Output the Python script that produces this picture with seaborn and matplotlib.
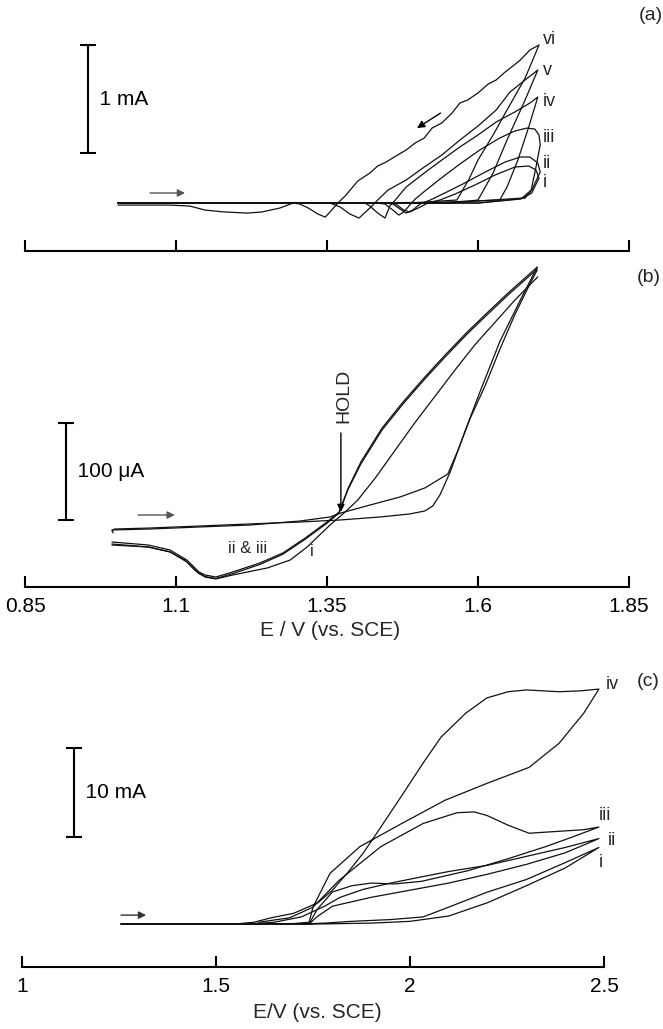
import matplotlib
matplotlib.use("Agg")
import matplotlib.pyplot as plt
import numpy as np
import pandas as pd
import seaborn as sns

sns.set_theme(style="white")
plt.rcParams['font.family'] = ['Liberation Sans', 'DejaVu Sans']

INK = '#111111'

# ---------------- Panel (a): current in mA vs E / V ----------------
a_vi_E = [1.004, 1.30, 1.50, 1.565, 1.585, 1.600, 1.625, 1.648, 1.678, 1.701, 1.686, 1.670, 1.660, 1.645,
          1.630, 1.617, 1.600, 1.583, 1.570, 1.557, 1.540, 1.524, 1.511, 1.496, 1.481, 1.464, 1.448, 1.434,
          1.421, 1.401, 1.380, 1.368, 1.355, 1.347, 1.335, 1.319, 1.305, 1.294, 1.272, 1.242, 1.218, 1.181,
          1.148, 1.123, 1.090, 1.004]
a_vi_I = [0, 0, 0.005, 0.028, 0.22, 0.398, 0.63, 0.861, 1.157, 1.463, 1.417, 1.324, 1.278, 1.213,
          1.139, 1.102, 1.019, 0.954, 0.926, 0.833, 0.741, 0.694, 0.602, 0.556, 0.491, 0.435, 0.380, 0.343,
          0.278, 0.204, 0.065, 0.0, -0.083, -0.130, -0.102, -0.046, -0.009, 0.0, -0.046, -0.083, -0.093,
          -0.083, -0.065, -0.028, -0.019, -0.019]
a_v_E = [1.004, 1.40, 1.560, 1.600, 1.625, 1.648, 1.678, 1.699, 1.678, 1.653, 1.630, 1.600, 1.570, 1.540,
         1.511, 1.481, 1.451, 1.434, 1.421, 1.403, 1.388, 1.372, 1.355, 1.004]
a_v_I = [0, 0, 0.003, 0.028, 0.278, 0.583, 0.954, 1.231, 1.139, 1.028, 0.861, 0.713, 0.583, 0.444,
         0.333, 0.213, 0.120, 0.028, -0.046, -0.139, -0.102, -0.037, 0, 0]
a_iv_E = [1.004, 1.50, 1.636, 1.648, 1.666, 1.684, 1.699, 1.686, 1.661, 1.630, 1.600, 1.570, 1.540, 1.511,
          1.481, 1.463, 1.454, 1.446, 1.434, 1.421, 1.413, 1.004]
a_iv_I = [0, 0, 0.028, 0.148, 0.398, 0.704, 0.981, 0.926, 0.843, 0.750, 0.630, 0.519, 0.398, 0.278,
          0.148, 0.028, -0.028, -0.139, -0.093, -0.028, 0, 0]
a_iii_E = [1.004, 1.55, 1.673, 1.688, 1.696, 1.703, 1.701, 1.694, 1.681, 1.661, 1.636, 1.603, 1.570, 1.537,
           1.512, 1.496, 1.487, 1.477, 1.469, 1.459, 1.446, 1.434, 1.004]
a_iii_I = [0, 0, 0.046, 0.120, 0.333, 0.537, 0.630, 0.685, 0.694, 0.667, 0.602, 0.491, 0.361, 0.222,
           0.111, 0.037, -0.019, -0.083, -0.111, -0.065, -0.009, 0, 0]
a_ii_E = [1.004, 1.60, 1.678, 1.689, 1.703, 1.699, 1.686, 1.670, 1.645, 1.612, 1.578, 1.545, 1.521, 1.504,
          1.492, 1.481, 1.471, 1.459, 1.446, 1.004]
a_ii_I = [0, 0, 0.046, 0.120, 0.287, 0.370, 0.426, 0.426, 0.380, 0.287, 0.185, 0.093, 0.028, -0.009,
          -0.065, -0.093, -0.056, -0.009, 0, 0]
a_i_E = [1.004, 1.60, 1.671, 1.689, 1.701, 1.696, 1.684, 1.661, 1.628, 1.595, 1.562, 1.537, 1.517, 1.501,
         1.487, 1.477, 1.464, 1.454, 1.004]
a_i_I = [0, 0, 0.037, 0.093, 0.231, 0.306, 0.343, 0.333, 0.259, 0.167, 0.083, 0.028, 0, -0.046,
         -0.083, -0.065, -0.009, 0, 0]
a_labels = ['vi', 'v', 'iv', 'iii', 'ii', 'i']
a_label_I = [1.51, 1.23, 0.94, 0.61, 0.37, 0.19]

# ---------------- Panel (b): current in uA vs E / V ----------------
b_fwd_i_E = [0.996, 0.994, 0.998, 1.057, 1.140, 1.222, 1.305, 1.372, 1.438, 1.487, 1.512, 1.525, 1.537,
             1.554, 1.578, 1.603, 1.636, 1.670, 1.698]
b_fwd_i_I = [-4, -2, 0, 1.0, 3.1, 5.2, 7.2, 9.3, 12.4, 15.5, 18.6, 23.7, 35.1, 58.8, 100, 141, 193, 236, 270]
b_fwd_23_E = [0.994, 1.057, 1.140, 1.222, 1.305, 1.355, 1.373, 1.421, 1.471, 1.512, 1.550, 1.567, 1.587,
              1.612, 1.636, 1.661, 1.683, 1.698]
b_fwd_23_I = [-1, 0, 2.1, 4.1, 8.2, 12.4, 16.5, 24.7, 33, 42.3, 56.7, 81.4, 114, 148, 185, 221, 249, 267]
b_rev_2_E = [1.698, 1.651, 1.617, 1.582, 1.545, 1.511, 1.476, 1.441, 1.406, 1.385, 1.370, 1.350, 1.314,
             1.277, 1.239, 1.194, 1.166, 1.148, 1.138, 1.118, 1.090, 1.054, 0.994]
b_rev_2_I = [270, 244, 224, 203, 179, 156, 131, 104, 69, 42, 17.5, 7.2, -9.3, -24.7, -35, -44.3, -49.5,
             -47.4, -44.3, -32, -21.6, -16.5, -13.4]
b_rev_3_E = b_rev_2_E
b_rev_3_I = [268, 242, 222, 201, 177, 154, 129, 102, 67, 41, 16.5, 6, -10.5, -26, -36.5, -46, -51, -49,
             -46, -34, -23.5, -18.5, -15.5]
b_rev_1_E = [1.699, 1.661, 1.628, 1.595, 1.562, 1.529, 1.496, 1.463, 1.430, 1.401, 1.380, 1.355, 1.317,
             1.289, 1.251, 1.194, 1.166, 1.148, 1.131, 1.115, 1.090, 1.054, 0.994]
b_rev_1_I = [260, 236, 213, 190, 164, 137, 110, 81.4, 52.6, 29.9, 17.5, 4.1, -18.6, -32, -40.2, -47.4,
             -51.5, -49.5, -42.3, -32, -23.7, -18.6, -16.5]
b_ticks = [0.85, 1.1, 1.35, 1.6, 1.85]
b_ticklabels = ['0.85', '1.1', '1.35', '1.6', '1.85']

# ---------------- Panel (c): current in mA vs E / V ----------------
c_iv_E = [1.255, 1.60, 1.70, 1.740, 1.750, 1.794, 1.871, 1.979, 2.090, 2.198, 2.307, 2.384, 2.448, 2.487,
          2.44, 2.384, 2.30, 2.253, 2.198, 2.144, 2.08, 2.034, 1.98, 1.925, 1.88, 1.838, 1.80, 1.763, 1.70,
          1.642, 1.598, 1.55]
c_iv_I = [0, 0, 0.05, 0.2, 1.9, 5.7, 8.7, 11.3, 13.9, 15.8, 17.6, 20.3, 23.7, 26.4, 26.2, 26.1, 26.3,
          26.1, 25.4, 23.7, 21.0, 18.1, 14.5, 10.9, 8.0, 5.7, 3.8, 2.4, 1.2, 0.7, 0.2, 0.0]
c_iii_E = [1.255, 1.60, 1.74, 1.76, 1.80, 1.85, 1.90, 1.96, 2.03, 2.15, 2.25, 2.35, 2.42, 2.487, 2.448,
           2.307, 2.253, 2.198, 2.165, 2.121, 2.034, 1.925, 1.817, 1.750, 1.69, 1.61]
c_iii_I = [0, 0, 0, 1.6, 3.6, 4.3, 4.6, 4.5, 4.8, 6.0, 7.3, 8.7, 9.8, 10.9, 10.6, 10.2, 11.1, 12.2, 12.6,
           12.5, 11.3, 8.7, 4.9, 1.9, 0.7, 0.2]
c_ii_E = [1.255, 1.60, 1.74, 1.76, 1.80, 1.90, 2.00, 2.10, 2.20, 2.30, 2.40, 2.487, 2.40, 2.30, 2.20,
          2.10, 2.03, 1.95, 1.88, 1.82, 1.78, 1.72, 1.65, 1.58]
c_ii_I = [0, 0, 0, 0.8, 2.0, 3.0, 3.8, 4.6, 5.6, 6.7, 8.0, 9.6, 8.6, 7.6, 6.6, 5.9, 5.3, 4.6, 3.9, 3.0,
          2.0, 0.8, 0.2, 0]
c_i_E = [1.255, 1.76, 1.90, 2.00, 2.10, 2.20, 2.30, 2.40, 2.487, 2.40, 2.30, 2.20, 2.10, 2.034, 1.95,
         1.85, 1.78, 1.72]
c_i_I = [0, 0, 0.1, 0.3, 0.9, 2.4, 4.3, 6.3, 8.6, 6.9, 5.0, 3.6, 1.9, 0.8, 0.5, 0.3, 0.1, 0]
c_ticks = [1.0, 1.5, 2.0, 2.5]
c_ticklabels = ['1', '1.5', '2', '2.5']
c_labels = ['iv', 'iii', 'ii', 'i']
c_label_E = [2.521, 2.503, 2.521, 2.492]
c_label_I = [26.9, 12.2, 9.4, 6.9]

SCALE_A = 1.0     # mA
SCALE_B = 100.0   # uA
SCALE_C = 10.0    # mA


def to_frame(curves):
    parts = [pd.DataFrame({'E': E, 'I': I, 'scan': name}) for name, (E, I) in curves.items()]
    return pd.concat(parts, ignore_index=True)


def draw(ax, df, lw=0.9):
    sns.lineplot(data=df, x='E', y='I', units='scan', estimator=None, sort=False,
                 color=INK, lw=lw, ax=ax, legend=False)


def style(ax, xlim, ylim, ticks, labels):
    ax.set_xlim(xlim)
    ax.set_ylim(ylim)
    for s in ['top', 'right', 'left']:
        ax.spines[s].set_visible(False)
    sp = ax.spines['bottom']
    sp.set_color('black')
    sp.set_linewidth(1.5)
    sp.set_bounds(ticks[0], ticks[-1])
    ax.set_xticks(ticks)
    ax.set_xticklabels(labels if labels else [''] * len(ticks))
    ax.tick_params(axis='x', direction='in', length=8, width=1.5, colors='black',
                   labelsize=15, pad=7, bottom=True)
    ax.set_yticks([])
    ax.set_xlabel('')
    ax.set_ylabel('')
    ax.patch.set_alpha(0)
    ax.grid(False)


def scalebar(ax, x, y0, length, label, fs=15):
    ax.errorbar([x], [y0 + length / 2], yerr=[[length / 2], [length / 2]], fmt='none',
                ecolor='black', elinewidth=1.5, capsize=6, capthick=1.5)
    ax.text(x, y0 + length / 2, '  ' + label, ha='left', va='center', fontsize=fs, color='black')


def arrow(ax, start, end, color='black', lw=1.0):
    ax.annotate('', xy=end, xytext=start,
                arrowprops=dict(arrowstyle='-|>', color=color, lw=lw, mutation_scale=11,
                                shrinkA=0, shrinkB=0))


W, H = 663.0, 1029.0
fig = plt.figure(figsize=(6.63, 10.29), dpi=100)


def add_ax(x0, x1, ytop, ybot):
    return fig.add_axes([x0 / W, 1 - ybot / H, (x1 - x0) / W, (ybot - ytop) / H])


# ----- (a)
ax_a = add_ax(25, 629, 10, 251)
df_a = to_frame({'vi': (a_vi_E, a_vi_I), 'v': (a_v_E, a_v_I), 'iv': (a_iv_E, a_iv_I),
                 'iii': (a_iii_E, a_iii_I), 'ii': (a_ii_E, a_ii_I), 'i': (a_i_E, a_i_I)})
draw(ax_a, df_a)
style(ax_a, (0.85, 1.85), (-0.444, 1.787), b_ticks, None)
for lab, yv in zip(a_labels, a_label_I):
    ax_a.text(1.708, yv, lab, ha='left', va='center', fontsize=13)
scalebar(ax_a, 0.954, 0.46, SCALE_A, '1 mA')
arrow(ax_a, (1.057, 0.093), (1.115, 0.093), color='#555555')
arrow(ax_a, (1.538, 0.833), (1.499, 0.694))

# ----- (b)
ax_b = add_ax(25, 629, 255, 587)
df_b = to_frame({'fwd_i': (b_fwd_i_E, b_fwd_i_I), 'fwd_23': (b_fwd_23_E, b_fwd_23_I),
                 'rev_2': (b_rev_2_E, b_rev_2_I), 'rev_3': (b_rev_3_E, b_rev_3_I),
                 'rev_1': (b_rev_1_E, b_rev_1_I)})
draw(ax_b, df_b)
style(ax_b, (0.85, 1.85), (-59.8, 282.5), b_ticks, b_ticklabels)
scalebar(ax_b, 0.918, 9.3, SCALE_B, '100 \u03bcA')
arrow(ax_b, (1.037, 14.4), (1.098, 14.4), color='#555555')
ax_b.text(1.378, 137, 'HOLD', rotation=90, ha='center', va='center', fontsize=14)
arrow(ax_b, (1.373, 99), (1.373, 17.5))
ax_b.text(1.218, -20.6, 'ii & iii', ha='center', va='center', fontsize=12)
ax_b.text(1.325, -22.7, 'i', ha='center', va='center', fontsize=12)
fig.text(330 / W, 1 - 630 / H, 'E / V (vs. SCE)', ha='center', va='center', fontsize=15)

# ----- (c)
ax_c = add_ax(22, 604, 645, 967)
df_c = to_frame({'iv': (c_iv_E, c_iv_I), 'iii': (c_iii_E, c_iii_I),
                 'ii': (c_ii_E, c_ii_I), 'i': (c_i_E, c_i_I)})
draw(ax_c, df_c)
style(ax_c, (1.0, 2.5), (-4.83, 31.35), c_ticks, c_ticklabels)
for lab, xv, yv in zip(c_labels, c_label_E, c_label_I):
    ax_c.text(xv, yv, lab, ha='center', va='center', fontsize=13)
scalebar(ax_c, 1.134, 9.8, SCALE_C, '10 mA')
arrow(ax_c, (1.255, 1.0), (1.32, 1.0), color='#333333')
fig.text(317 / W, 1 - 1013 / H, 'E/V (vs. SCE)', ha='center', va='center', fontsize=15)

# panel tags
fig.text(651 / W, 1 - 15 / H, '(a)', ha='center', va='center', fontsize=14)
fig.text(649 / W, 1 - 277 / H, '(b)', ha='center', va='center', fontsize=14)
fig.text(648 / W, 1 - 681 / H, '(c)', ha='center', va='center', fontsize=14)

fig.savefig('out.png', dpi=100, facecolor='white')
